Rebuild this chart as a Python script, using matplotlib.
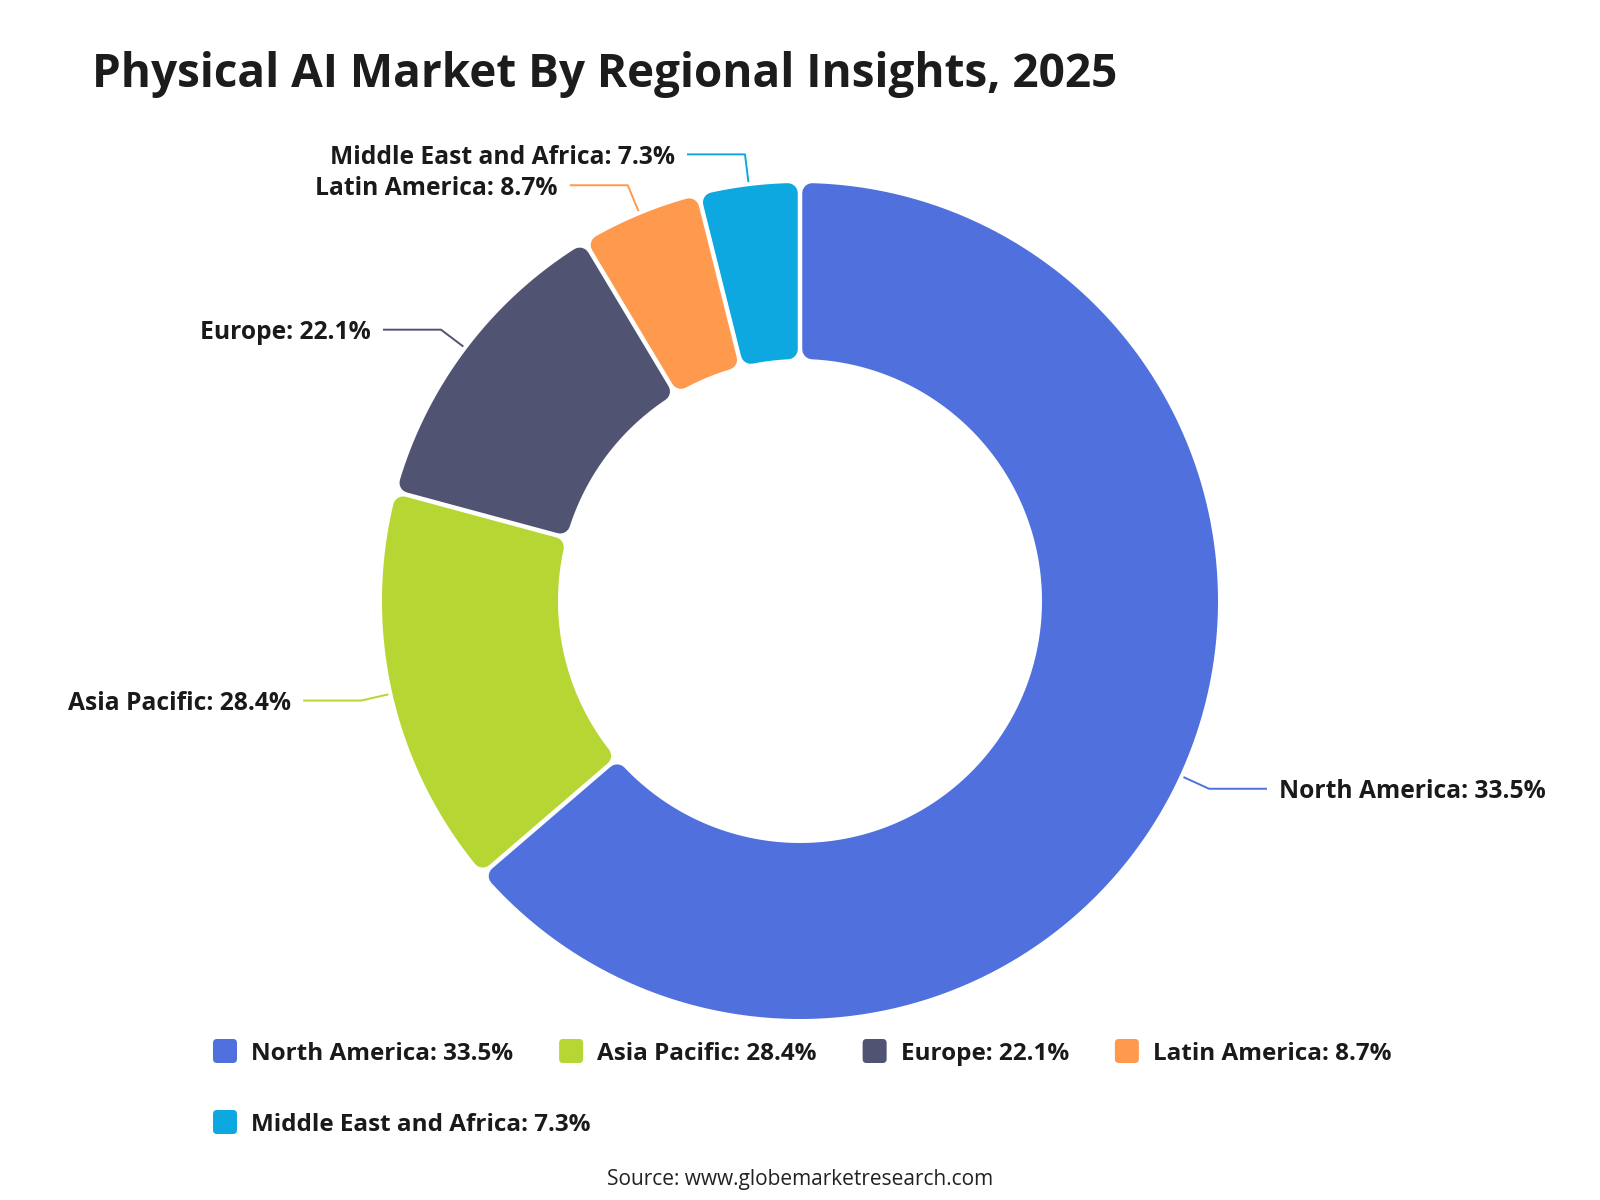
import numpy as np
import matplotlib
matplotlib.use("Agg")
import matplotlib.pyplot as plt
from matplotlib.patches import Polygon, FancyBboxPatch

# data
regions = ['North America', 'Asia Pacific', 'Europe', 'Latin America', 'Middle East and Africa']
label_pct = [33.5, 28.4, 22.1, 8.7, 7.3]
# share of the ring each slice takes in the picture (not the labelled %)
slice_share = [63.7, 15.5, 12.2, 4.7, 3.9]
colors = ['#5070dd', '#b6d634', '#505372', '#ff994d', '#0ca8df']

plt.rcParams['font.family'] = ['Open Sans', 'DejaVu Sans']

fig = plt.figure(figsize=(16, 12), dpi=100)
ax = fig.add_axes([0, 0, 1, 1])
ax.set_xlim(0, 1600)
ax.set_ylim(1200, 0)
ax.axis('off')

cx, cy = 800, 601
R_out, R_in = 418, 242
gap = 4.5
rc = 10  # corner radius


def pt(theta, r):
    # theta in degrees, clockwise from 12 o'clock
    t = np.radians(theta)
    return cx + r * np.sin(t), cy - r * np.cos(t)


def slice_path(t0, t1):
    ro, ri = R_out - rc, R_in + rc
    d = gap / 2 + rc
    ao = np.degrees(np.arcsin(d / ro))
    ai = np.degrees(np.arcsin(d / ri))
    to = np.linspace(t0 + ao, t1 - ao, 200)
    ti = np.linspace(t1 - ai, t0 + ai, 200)
    xs = list(cx + ro * np.sin(np.radians(to))) + list(cx + ri * np.sin(np.radians(ti)))
    ys = list(cy - ro * np.cos(np.radians(to))) + list(cy - ri * np.cos(np.radians(ti)))
    return np.column_stack([xs, ys])


total = sum(slice_share)
start = 0.0
for name, pct, share, col in zip(regions, label_pct, slice_share, colors):
    span = share / total * 360
    end = start + span
    poly = Polygon(slice_path(start, end), closed=True, facecolor=col, edgecolor=col,
                   linewidth=2 * rc * 0.72, joinstyle='round')
    ax.add_patch(poly)

    mid = start + span / 2
    x0, y0 = pt(mid, R_out + 4)
    x1, y1 = pt(mid, R_out + 32)
    side = 1 if np.sin(np.radians(mid)) > 0 else -1
    x2 = x1 + side * 58
    ax.plot([x0, x1, x2], [y0, y1, y1], color=col, lw=1.4, solid_capstyle='butt')
    ax.text(x2 + side * 12, y1, f'{name}: {pct}%', ha='left' if side > 0 else 'right',
            va='center_baseline', fontsize=17.7, fontweight='bold', color='#1a1a1a')
    start = end

# title and source
ax.text(92, 87, 'Physical AI Market By Regional Insights, 2025', fontsize=33,
        fontweight='bold', color='#1c1c1c', ha='left', va='baseline')
ax.text(800, 1177, 'Source: www.globemarketresearch.com', fontsize=15, fontweight='medium',
        color='#222222', ha='center', va='center_baseline')

# legend, laid out in rows
fig.canvas.draw()
renderer = fig.canvas.get_renderer()
lx, ly = 213, 1051
row_gap = 71
per_row = 4
x = lx
for i, (name, pct, col) in enumerate(zip(regions, label_pct, colors)):
    if i > 0 and i % per_row == 0:
        x = lx
        ly += row_gap
    sq = FancyBboxPatch((x + 2, ly - 10), 20, 20, boxstyle='round,pad=2,rounding_size=4',
                        facecolor=col, edgecolor='none')
    ax.add_patch(sq)
    t = ax.text(x + 38, ly, f'{name}: {pct}%', fontsize=17.5, fontweight='bold',
                color='#1a1a1a', ha='left', va='center_baseline')
    w = t.get_window_extent(renderer).width
    x = x + 38 + w + 46

fig.savefig('out.png', dpi=100, facecolor='white')
